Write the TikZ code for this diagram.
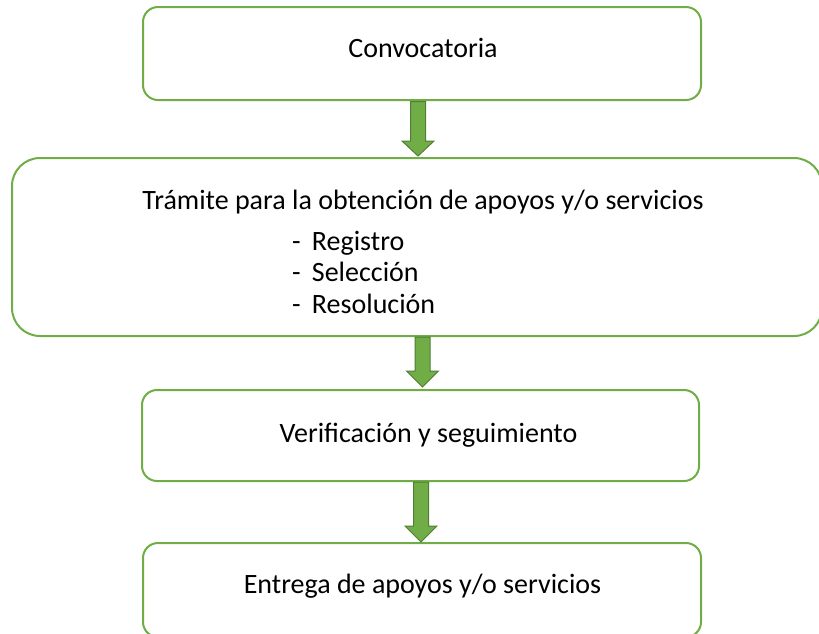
\documentclass[tikz,border=0pt]{standalone}
\usepackage{fontspec}
\setmainfont{Carlito}
\definecolor{boxgreen}{HTML}{70AD47}
\definecolor{arrowedge}{HTML}{507E32}
\begin{document}
\begin{tikzpicture}[x=1pt,y=-1pt,
  flowbox/.style={draw=boxgreen,line width=2pt,rounded corners=15pt,inner sep=0pt},
  bigbox/.style={draw=boxgreen,line width=2pt,rounded corners=28pt,inner sep=0pt},
  txt/.style={font=\fontsize{28}{34}\selectfont,inner sep=0pt,anchor=base},
  blockarrow/.style={fill=boxgreen,draw=arrowedge,line width=1pt,line join=miter}]
\useasboundingbox (0,0) rectangle (819,633);
% boxes
\node[flowbox,minimum width=558pt,minimum height=93pt] (b1) at (422,53.5) {};
\node[bigbox,minimum width=810pt,minimum height=178pt] (b2) at (417,247) {};
\node[flowbox,minimum width=557pt,minimum height=91pt] (b3) at (420.5,435.5) {};
\node[flowbox,minimum width=558pt,minimum height=94pt] (b4) at (422,590) {};
% texts
\node[txt] (t1) at (423,57) {Convocatoria};
\node[txt] (t2) at (423,209) {Trámite para la obtención de apoyos y/o servicios};
\node[txt,anchor=base west] (t3) at (292,250) {-\hspace{0.4em}Registro};
\node[txt,anchor=base west] (t4) at (292,281) {-\hspace{0.4em}Selección};
\node[txt,anchor=base west] (t5) at (292,313) {-\hspace{0.4em}Resolución};
\node[txt] (t6) at (428.5,442) {Verificación y seguimiento};
\node[txt] (t7) at (422.5,593) {Entrega de apoyos y/o servicios};
% block arrows
\newcommand\blkarrow[4]{%
  \draw[blockarrow] (#1-7.5,#2) -- (#1+7.5,#2) -- (#1+7.5,#3) -- (#1+16,#3)
    -- (#1,#4) -- (#1-16,#3) -- (#1-7.5,#3) -- cycle;}
\blkarrow{418}{101.5}{141}{156}
\blkarrow{422.5}{337}{371}{387}
\blkarrow{421}{482}{526}{542}
\end{tikzpicture}
\end{document}
